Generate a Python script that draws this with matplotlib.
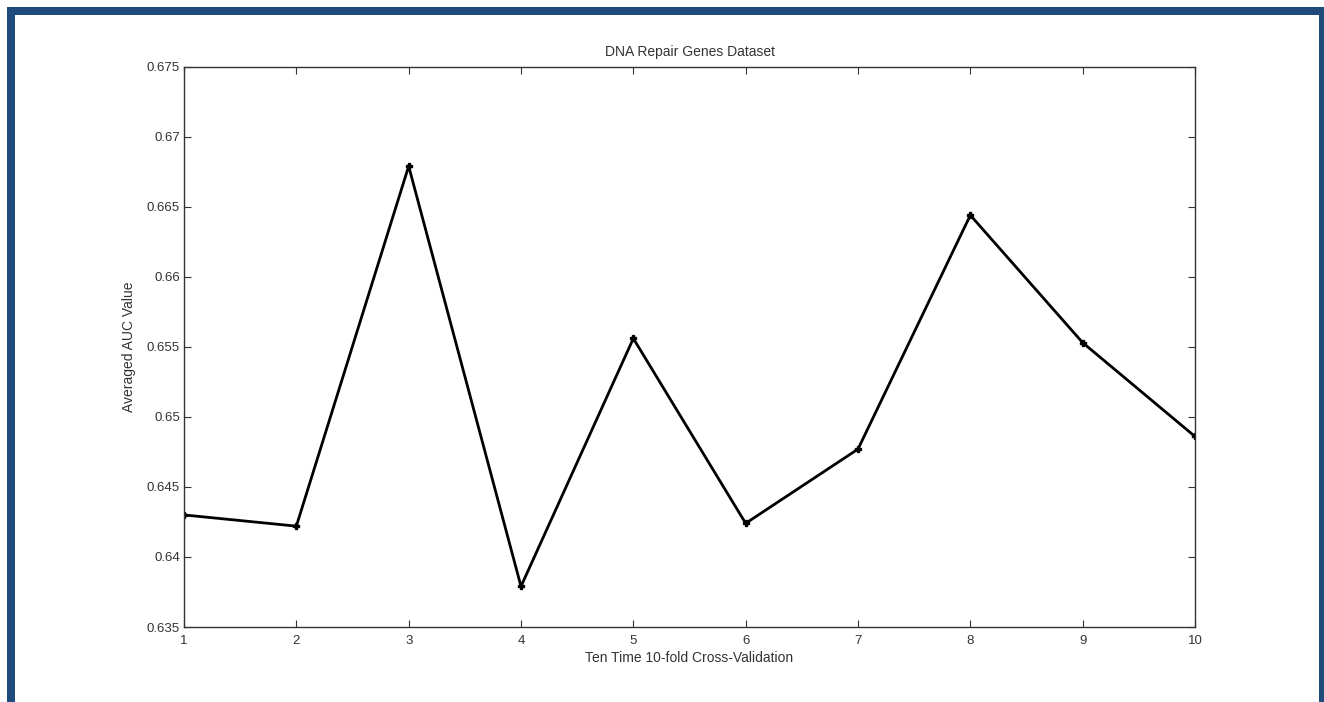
import matplotlib
matplotlib.use("Agg")
import matplotlib.pyplot as plt
from matplotlib.patches import Rectangle

runs = [1, 2, 3, 4, 5, 6, 7, 8, 9, 10]
auc = [0.6430, 0.6422, 0.6679, 0.6379, 0.6556, 0.6424, 0.6477, 0.6644, 0.6553, 0.6486]
yticks = [0.635, 0.64, 0.645, 0.65, 0.655, 0.66, 0.665, 0.67, 0.675]
ytick_labels = ["0.635", "0.64", "0.645", "0.65", "0.655", "0.66", "0.665", "0.67", "0.675"]

plt.rcParams['font.family'] = ['Liberation Sans', 'DejaVu Sans']
W, H = 1324, 702
fig = plt.figure(figsize=(W / 100, H / 100), dpi=100)
fig.patch.set_facecolor('white')

# blue frame
border = '#1F4A7C'
fig.add_artist(Rectangle((7 / W, 0), 8 / W, 1 - 7 / H, transform=fig.transFigure, color=border, lw=0))
fig.add_artist(Rectangle((1319 / W, 0), 8 / W, 1 - 7 / H, transform=fig.transFigure, color=border, lw=0))
fig.add_artist(Rectangle((7 / W, 1 - 15 / H), (1327 - 7) / W, 8 / H, transform=fig.transFigure, color=border, lw=0))

ax = fig.add_axes([184 / W, 1 - 627 / H, (1195 - 184) / W, (627 - 66.7) / H])
ax.plot(runs, auc, color='black', lw=2.0, marker='P', markersize=5)
ax.set_xlim(1, 10)
ax.set_ylim(0.635, 0.675)
ax.set_xticks(runs)
ax.set_yticks(yticks)
ax.set_yticklabels(ytick_labels)
ax.tick_params(direction='in', top=True, right=True, length=5, width=0.8,
               labelsize=9.5, labelcolor='#333333', color='#333333', pad=3)
ax.tick_params(axis='x', pad=6)
for s in ax.spines.values():
    s.set_color('#333333')
    s.set_linewidth(1)
ax.set_title('DNA Repair Genes Dataset', fontsize=10, color='#333333', pad=8)
ax.set_xlabel('Ten Time 10-fold Cross-Validation', fontsize=10, color='#333333', labelpad=3)
ax.set_ylabel('Averaged AUC Value', fontsize=10, color='#333333', labelpad=8)

fig.savefig('out.png', dpi=100)
